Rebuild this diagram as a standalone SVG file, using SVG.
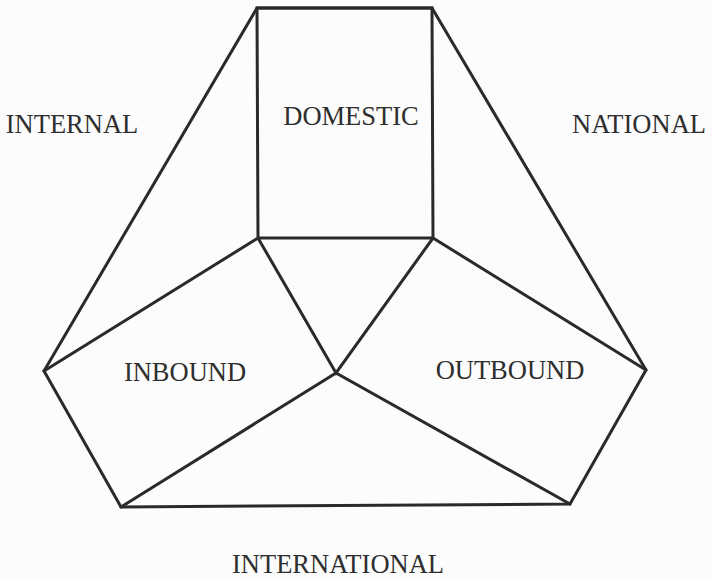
<svg xmlns="http://www.w3.org/2000/svg" width="712" height="578" viewBox="0 0 712 578">
  <style>
    .edge { fill: none; stroke: #2a2a2a; stroke-width: 3; stroke-linejoin: miter; stroke-linecap: round; }
    .lbl { font-family: "Liberation Serif", "Times New Roman", serif; font-size: 26.5px; fill: #2e2e2e; text-anchor: middle; }
  </style>
  <rect x="0" y="0" width="712" height="578" fill="#fcfcfc"/>
  <g id="connectors">
    <polygon class="edge" points="257,8 432,8 433,238 258,238"/>
    <polygon class="edge" points="257,8 44,371 121,507 570,504 646,370 432,8"/>
    <polyline class="edge" points="44,371 258,238 336,373 433,238 646,370"/>
    <polyline class="edge" points="121,507 336,373 570,504"/>
  </g>
  <g id="domestic"><text class="lbl" x="351" y="125">DOMESTIC</text></g>
  <g id="internal"><text class="lbl" x="72" y="133">INTERNAL</text></g>
  <g id="national"><text class="lbl" x="639" y="133">NATIONAL</text></g>
  <g id="inbound"><text class="lbl" x="185" y="381">INBOUND</text></g>
  <g id="outbound"><text class="lbl" x="510" y="379">OUTBOUND</text></g>
  <g id="international"><text class="lbl" x="338" y="573">INTERNATIONAL</text></g>
</svg>
